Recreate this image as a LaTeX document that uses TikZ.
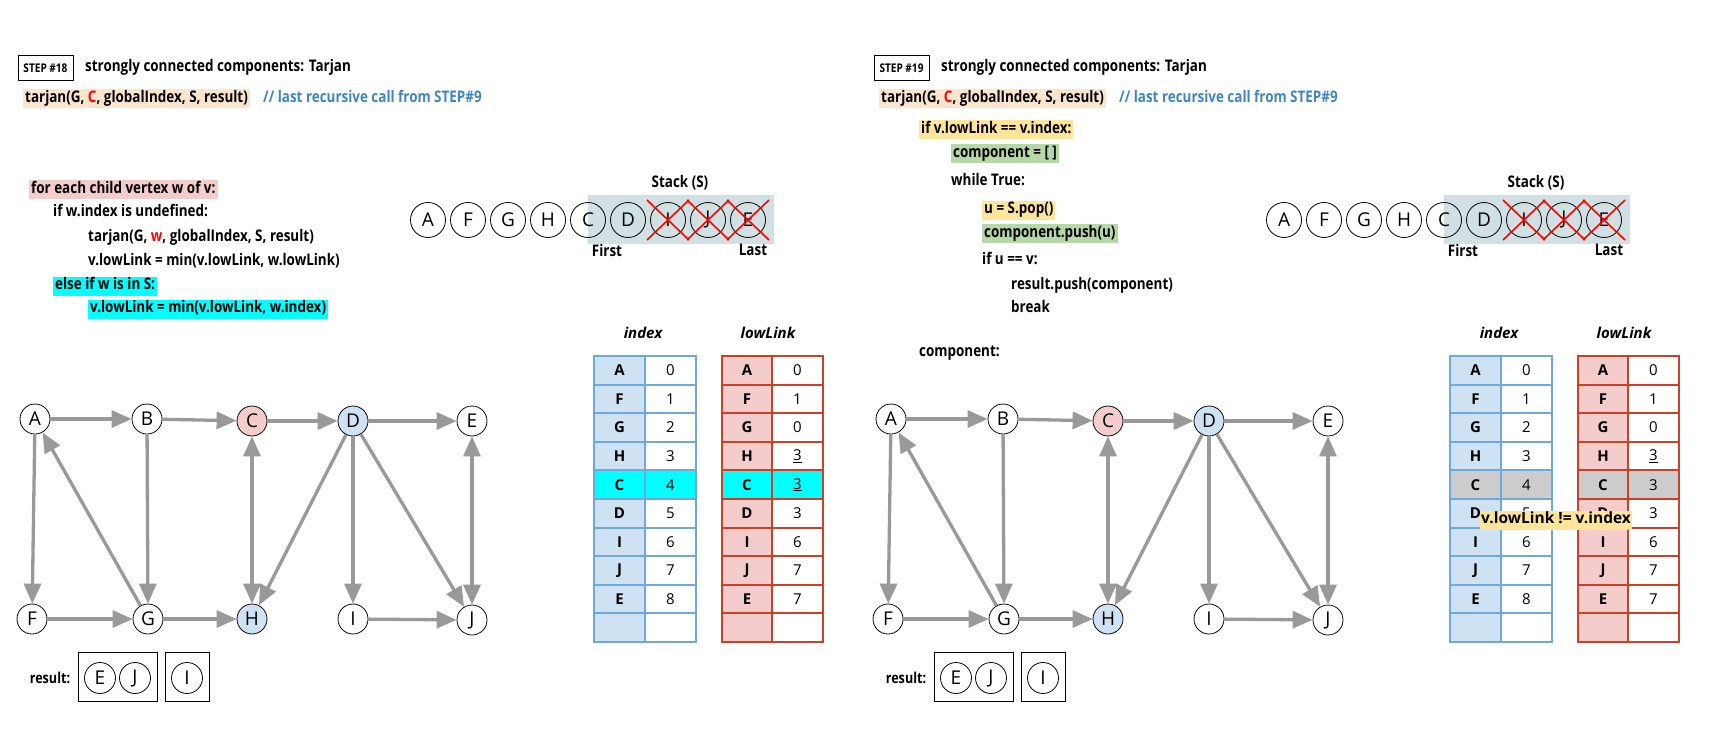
\documentclass[tikz,border=0pt]{standalone}
\usepackage{fontspec}
\setmainfont{Open Sans}
\newfontfamily\codefont{Open Sans}[FakeStretch=0.84]
\usetikzlibrary{arrows.meta, positioning}

\definecolor{peach}{HTML}{FCE5CD}
\definecolor{pinkhl}{HTML}{F4CCCC}
\definecolor{cyanhl}{HTML}{00FFFF}
\definecolor{yellowhl}{HTML}{FFE599}
\definecolor{greenhl}{HTML}{B6D7A8}
\definecolor{commentblue}{HTML}{3D85C6}
\definecolor{stackbg}{HTML}{D0E0E3}
\definecolor{idxline}{HTML}{6FA8DC}
\definecolor{idxfill}{HTML}{CFE2F3}
\definecolor{lowline}{HTML}{CC4125}
\definecolor{lowfill}{HTML}{F4CCCC}
\definecolor{rowgray}{HTML}{CCCCCC}
\definecolor{edgegray}{HTML}{999999}
\definecolor{codered}{HTML}{FF0000}

\tikzset{
  >={Triangle[length=20pt,width=17pt]},
  code/.style={anchor=west, inner xsep=2pt, inner ysep=1.75pt, text height=11.5pt, text depth=4pt,
    font=\codefont\bfseries\fontsize{16}{18}\selectfont},
  caption/.style={inner sep=0pt, font=\codefont\bfseries\fontsize{16}{18}\selectfont},
  stepbox/.style={draw, line width=1pt, minimum width=55pt, minimum height=25pt, inner sep=0pt,
    font=\codefont\bfseries\fontsize{12}{14}\selectfont},
  vertex/.style={circle, draw, line width=0.8pt, minimum size=30pt, inner sep=0pt, fill=white,
    font=\fontsize{19}{21}\selectfont},
  stackitem/.style={circle, draw, line width=0.8pt, minimum size=35pt, inner sep=0pt,
    font=\fontsize{19}{21}\selectfont},
  cellkey/.style={font=\bfseries\fontsize{15}{17}\selectfont},
  cellval/.style={font=\fontsize{15}{17}\selectfont},
  tablehead/.style={inner sep=0pt, font=\bfseries\itshape\fontsize{15}{17}\selectfont},
  link/.style={edgegray, line width=3.3pt, ->},
  dlink/.style={edgegray, line width=3.3pt, <->},
  crossout/.style={codered, line width=1.6pt},
}

\begin{document}
\begin{tikzpicture}[x=1pt, y=-1pt]
\useasboundingbox (0,0) rectangle (1719,749);

% step 18 (left)
\node[stepbox] (stepL) at (45.5,68.5) {STEP \#18};
\node[code] (titleL) at (83,68) {strongly connected components: Tarjan};
\node[code, fill=peach] (callL) at (23,98.5) {tarjan(G, \textcolor{codered}{C}, globalIndex, S, result)};
\node[code, text=commentblue] (noteL) at (261,98.5) {// last recursive call from STEP\#9};
\node[code, fill=pinkhl] (forL) at (29,189.5) {for each child vertex w of v:};
\node[code] (ifL) at (51,213) {if w.index is undefined:};
\node[code] (recL) at (86,238) {tarjan(G, \textcolor{codered}{w}, globalIndex, S, result)};
\node[code] (minaL) at (86,262) {v.lowLink = min(v.lowLink, w.lowLink)};
\node[code, fill=cyanhl] (elseL) at (53,286) {else if w is in S:};
\node[code, fill=cyanhl] (minbL) at (88,309) {v.lowLink = min(v.lowLink, w.index)};

% step 19 (right)
\node[stepbox] (stepR) at (901.5,68.5) {STEP \#19};
\node[code] (titleR) at (939,68) {strongly connected components: Tarjan};
\node[code, fill=peach] (callR) at (879,98.5) {tarjan(G, \textcolor{codered}{C}, globalIndex, S, result)};
\node[code, text=commentblue] (noteR) at (1117,98.5) {// last recursive call from STEP\#9};
\node[code, fill=yellowhl] (ifR) at (919,129.5) {if v.lowLink == v.index:};
\node[code, fill=greenhl] (compR) at (951,153.5) {component = [ ]};
\node[code] (whileR) at (949,182) {while True:};
\node[code, fill=yellowhl] (popR) at (982,210) {u = S.pop()};
\node[code, fill=greenhl] (pushR) at (982,233.5) {component.push(u)};
\node[code] (ifuR) at (980,261) {if u == v:};
\node[code] (resR) at (1009,286) {result.push(component)};
\node[code] (breakR) at (1009,309) {break};
\node[code] (complR) at (917,353) {component:};

% shared parts of both steps
\foreach \ox/\s/\rowcol/\cval in {0/L/cyanhl/{\underline{3}}, 856/R/rowgray/3}{
\begin{scope}[xshift=\ox pt]
  % stack
  \fill[stackbg] (588,195) rectangle (774,244);
  \foreach \v [count=\i] in {A,F,G,H,C,D,I,J,E}
    \node[stackitem] (st\s\i) at ({388+40*\i},220) {\v};
  \foreach \i in {7,8,9}
    \draw[crossout] ([shift={(-21,-20)}]st\s\i.center) -- ([shift={(21,20)}]st\s\i.center)
      ([shift={(-21,20)}]st\s\i.center) -- ([shift={(21,-20)}]st\s\i.center);
  \node[caption] (stack\s) at (680,183) {Stack (S)};
  \node[caption] (first\s) at (607,250) {First};
  \node[caption] (last\s) at (753,250) {Last};

  % index and lowLink tables
  \node[tablehead] (ih\s) at (643,333) {index};
  \node[tablehead] (lh\s) at (768,333) {lowLink};
  \fill[idxfill] (594,356) rectangle (645,642);
  \fill[lowfill] (722,356) rectangle (772,642);
  \fill[\rowcol] (594,{356+4*28.6}) rectangle (696,{356+5*28.6});
  \fill[\rowcol] (722,{356+4*28.6}) rectangle (823,{356+5*28.6});
  \foreach \r in {1,...,9}{
    \draw[idxline, line width=2pt] (594,{356+\r*28.6}) -- (696,{356+\r*28.6});
    \draw[lowline, line width=2pt] (722,{356+\r*28.6}) -- (823,{356+\r*28.6});
  }
  \draw[idxline, line width=2pt] (594,356) rectangle (696,642) (645,356) -- (645,642);
  \draw[lowline, line width=2pt] (722,356) rectangle (823,642) (772,356) -- (772,642);
  \foreach \v/\ix/\lw [count=\r from 0] in {A/0/0, F/1/1, G/2/0, H/3/{\underline{3}}, C/4/\cval, D/5/3, I/6/6, J/7/7, E/8/7}{
    \node[cellkey] (ik\s\r) at (619.5,{370.3+28.6*\r}) {\v};
    \node[cellval] (iv\s\r) at (670.5,{370.3+28.6*\r}) {\ix};
    \node[cellkey] (lk\s\r) at (747,{370.3+28.6*\r}) {\v};
    \node[cellval] (lv\s\r) at (797.5,{370.3+28.6*\r}) {\lw};
  }

  % graph
  \node[vertex] (A\s) at (35,419) {A};
  \node[vertex] (B\s) at (147,419) {B};
  \node[vertex, fill=pinkhl] (C\s) at (252,421) {C};
  \node[vertex, fill=idxfill] (D\s) at (353,421) {D};
  \node[vertex] (E\s) at (472,421) {E};
  \node[vertex] (F\s) at (32,619) {F};
  \node[vertex] (G\s) at (148,619) {G};
  \node[vertex, fill=idxfill] (H\s) at (252,619) {H};
  \node[vertex] (I\s) at (353,619) {I};
  \node[vertex] (J\s) at (472,620) {J};
  \draw[link] (A\s) -- (B\s);
  \draw[link] (B\s) -- (C\s);
  \draw[link] (C\s) -- (D\s);
  \draw[link] (D\s) -- (E\s);
  \draw[link] (A\s) -- (F\s);
  \draw[link] (G\s) -- (A\s);
  \draw[link] (B\s) -- (G\s);
  \draw[link] (F\s) -- (G\s);
  \draw[link] (G\s) -- (H\s);
  \draw[dlink] (C\s) -- (H\s);
  \draw[link] (D\s) -- (H\s);
  \draw[link] (D\s) -- (I\s);
  \draw[link] (D\s) -- (J\s);
  \draw[dlink] (E\s) -- (J\s);
  \draw[link] (I\s) -- (J\s);

  % result
  \node[caption, font=\codefont\bfseries\fontsize{15}{17}\selectfont] (res\s) at (50,678) {result:};
  \draw[line width=1pt] (78,652) rectangle (157,701);
  \draw[line width=1pt] (165,652) rectangle (209,701);
  \node[vertex, minimum size=31pt] (rE\s) at (100,678) {E};
  \node[vertex, minimum size=31pt] (rJ\s) at (135,678) {J};
  \node[vertex, minimum size=31pt] (rI\s) at (187,678) {I};
\end{scope}
}

\node[code, fill=yellowhl, inner xsep=1pt, font=\bfseries\fontsize{15.5}{17}\selectfont] (neqR) at (1480,520) {v.lowLink != v.index};

\end{tikzpicture}
\end{document}
